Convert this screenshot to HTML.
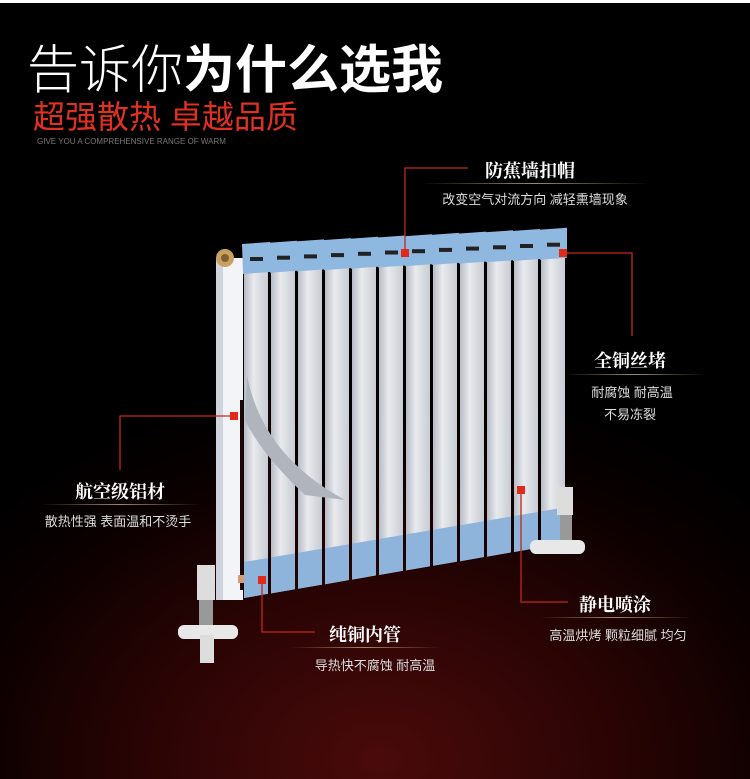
<!DOCTYPE html>
<html><head><meta charset="utf-8"><style>
html,body{margin:0;padding:0}
body{width:750px;height:779px;position:relative;overflow:hidden;background:radial-gradient(ellipse 520px 380px at 380px 760px,#4a0a0a 0%,#2a0404 45%,#0a0000 80%,#000 100%);font-family:"Liberation Sans","Noto Sans CJK SC",sans-serif}
.t{position:absolute;white-space:nowrap}
.h{font-family:"Liberation Serif","Noto Serif CJK SC",serif;font-weight:bold;color:#fff;font-size:18px;transform:translateX(-50%)}
.s{color:#ddd;font-size:13px;transform:translateX(-50%)}
.sep{position:absolute;height:1px;background:linear-gradient(90deg,transparent,#a08860,transparent)}
</style></head><body>
<div style="position:absolute;left:0;top:0;width:750px;height:3px;background:#fff"></div>
<div class="t" style="left:27px;top:28px;font-size:52px;color:#fff;letter-spacing:0px"><span style="font-weight:200">告诉你</span><span style="font-weight:bold">为什么选我</span></div>
<div class="t" style="left:33px;top:92px;font-size:32px;color:#e03020">超强散热&nbsp;卓越品质</div>
<div class="t" style="left:37px;top:137px;font-size:8px;color:#777">GIVE YOU A COMPREHENSIVE RANGE OF WARM</div>

<svg style="position:absolute;left:0;top:0" width="750" height="779">
<defs>
<linearGradient id="fin" x1="0" x2="1"><stop offset="0" stop-color="#b8bcc4"/><stop offset=".4" stop-color="#e8eaee"/><stop offset="1" stop-color="#c8ccd2"/></linearGradient>
</defs>
<polygon points="216,258 243,258 243,600 216,600" fill="#f2f4f8"/>
<polygon points="216,258 223,258 223,600 216,600" fill="#d0d4dc"/>
<circle cx="225" cy="258" r="9" fill="#c8a060"/><circle cx="225" cy="258" r="4" fill="#806030"/>
<rect x="240" y="400" width="30" height="190" fill="#1a0606"/>
<rect x="255" y="430" width="8" height="150" fill="#d89a70"/>
<rect x="238" y="575" width="25" height="8" fill="#d89a70"/>
<g id="fins"></g>
<path d="M247,375 Q262,455 345,500 L305,495 Q262,455 245,420 Z" fill="#b0b4bc"/>
<rect x="197" y="565" width="18" height="35" fill="#ddd"/><rect x="199" y="600" width="14" height="25" fill="#999"/>
<rect x="178" y="625" width="60" height="14" rx="6" fill="#e8e8e8"/><rect x="200" y="635" width="14" height="28" fill="#ddd"/>
<rect x="557" y="487" width="16" height="28" fill="#ddd"/><rect x="560" y="515" width="12" height="25" fill="#999"/>
<rect x="530" y="540" width="55" height="14" rx="6" fill="#e8e8e8"/>
<g stroke="#c0281c" stroke-width="1.3" fill="none">
<polyline points="405,255 405,168 468,168"/>
<polyline points="563,253 632,253 632,336"/>
<polyline points="234,416 120,416 120,470"/>
<polyline points="262,580 262,632 315,632"/>
<polyline points="521,490 521,602 568,602"/>
</g>
<g fill="#e02a1a">
<rect x="401" y="249" width="8" height="8"/><rect x="559" y="249" width="8" height="8"/>
<rect x="230" y="412" width="8" height="8"/><rect x="258" y="576" width="8" height="8"/>
<rect x="517" y="486" width="8" height="8"/>
</g>
</svg>
<script>
var g=document.getElementById('fins'),h='';
for(var i=0;i<12;i++){
 var x=244+i*27,w=24,t=264-i*1.3,b=598-i*4.6;
 h+='<polygon points="'+x+','+t+' '+(x+w)+','+(t-1.3)+' '+(x+w)+','+(b-4.2)+' '+x+','+b+'" fill="url(#fin)"/>';
 h+='<polygon points="'+x+','+(b-36)+' '+(x+w)+','+(b-40)+' '+(x+w)+','+(b-4.2)+' '+x+','+b+'" fill="#8fb4dc"/>';
 h+='<polygon points="'+(x-2)+','+(t-20)+' '+(x+w+2)+','+(t-22)+' '+(x+w+2)+','+(t+8)+' '+(x-1)+','+(t+10)+'" fill="#8fb8e0"/>';
 h+='<rect x="'+(x+6)+'" y="'+(t-7)+'" width="13" height="4" fill="#222"/>';
}
g.innerHTML=h;
</script>

<div class="t h" style="left:530px;top:157px">防蕉墙扣帽</div>
<div class="sep" style="left:420px;top:183px;width:230px"></div>
<div class="t s" style="left:535px;top:189px">改变空气对流方向 减轻熏墙现象</div>

<div class="t h" style="left:630px;top:347px">全铜丝堵</div>
<div class="sep" style="left:565px;top:374px;width:140px"></div>
<div class="t s" style="left:632px;top:382px">耐腐蚀 耐高温</div>
<div class="t s" style="left:630px;top:404px">不易冻裂</div>

<div class="t h" style="left:120px;top:478px">航空级铝材</div>
<div class="sep" style="left:40px;top:504px;width:160px"></div>
<div class="t s" style="left:118px;top:511px">散热性强 表面温和不烫手</div>

<div class="t h" style="left:365px;top:621px">纯铜内管</div>
<div class="sep" style="left:290px;top:647px;width:150px"></div>
<div class="t s" style="left:375px;top:655px">导热快不腐蚀 耐高温</div>

<div class="t h" style="left:615px;top:591px">静电喷涂</div>
<div class="sep" style="left:540px;top:617px;width:150px"></div>
<div class="t s" style="left:618px;top:625px">高温烘烤 颗粒细腻 均匀</div>
</body></html>
